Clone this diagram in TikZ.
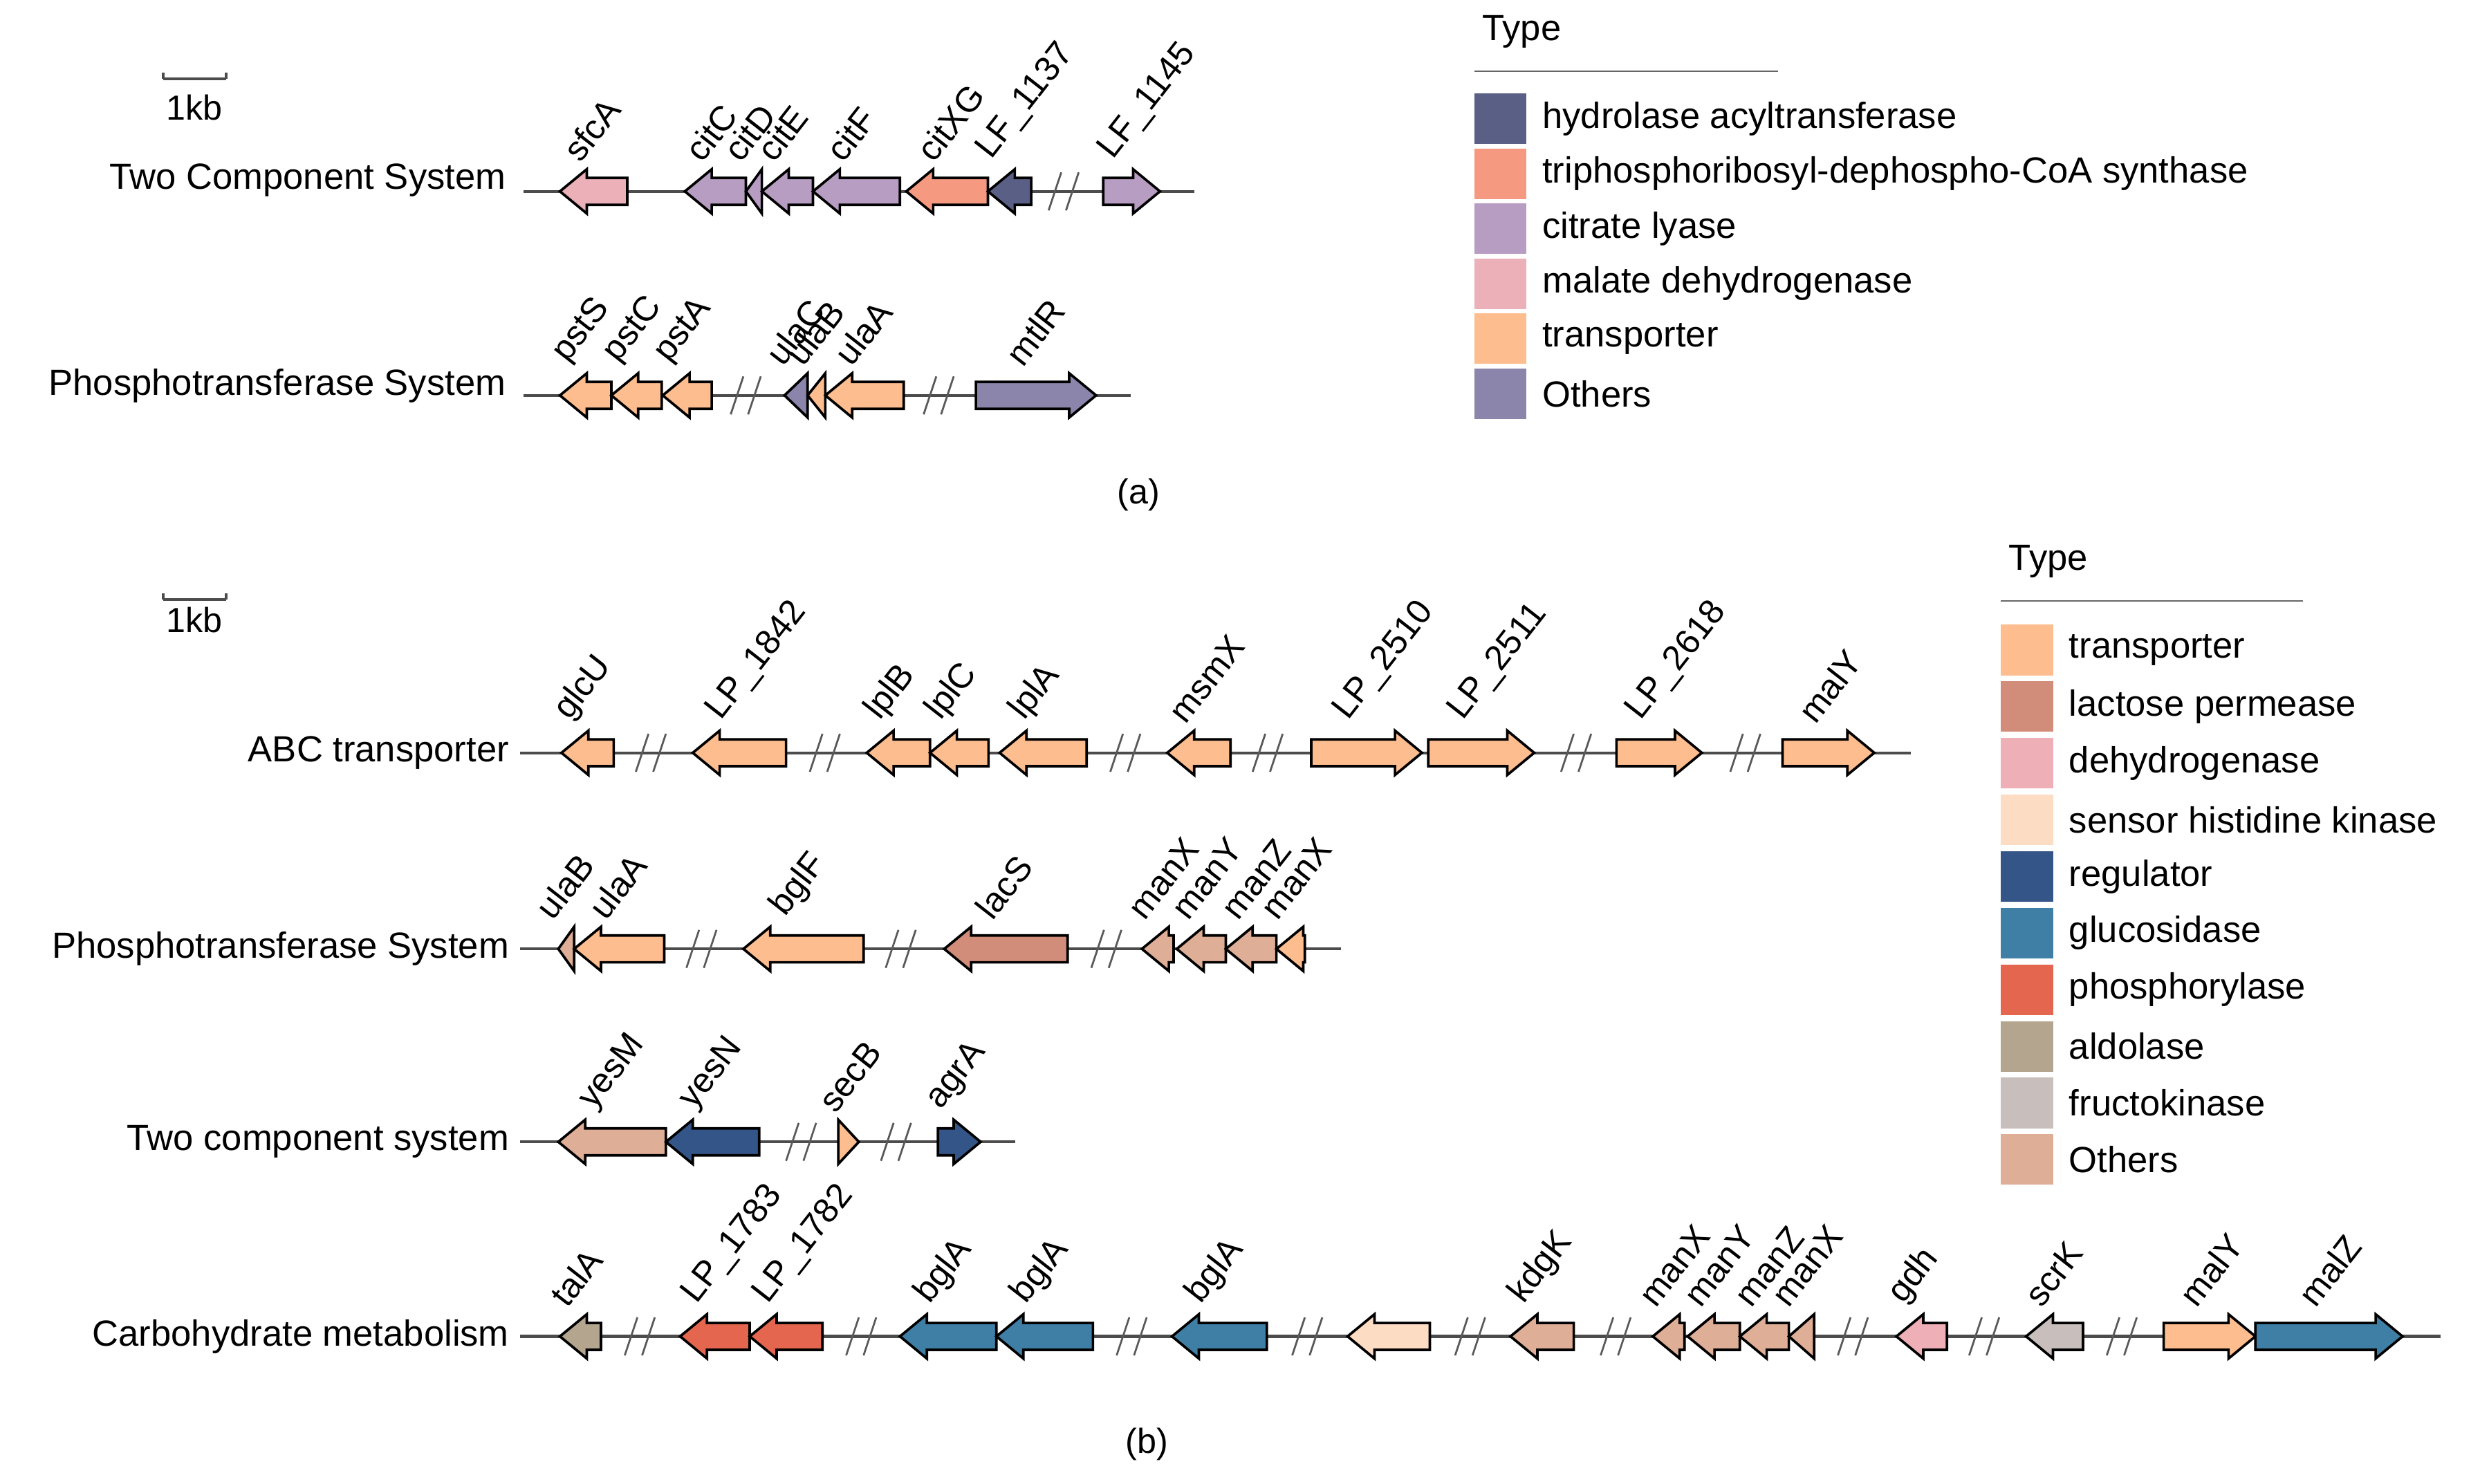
\documentclass[tikz,border=0pt]{standalone}
\usepackage{fontspec}
\setmainfont{Liberation Sans}
\begin{document}
\begin{tikzpicture}[x=1pt,y=-1pt,
  bb/.style={draw=black,line width=1.6pt,line join=miter},
  bl/.style={draw=black!70,line width=1.8pt},
  brk/.style={draw=black!65,line width=1.2pt},
  glab/.style={anchor=south west,rotate=52,inner sep=0pt,font=\fontsize{22}{26}\selectfont},
  rlab/.style={anchor=east,inner sep=0pt,font=\fontsize{23}{27}\selectfont},
  ltxt/.style={anchor=west,inner sep=0pt,font=\fontsize{23}{27}\selectfont}]
\definecolor{hyd}{HTML}{5A5F85}\definecolor{tri}{HTML}{F59A80}
\definecolor{cit}{HTML}{B89DC3}\definecolor{mal}{HTML}{ECB0B8}
\definecolor{tra}{HTML}{FDBD8E}\definecolor{oth}{HTML}{8B84AB}
\definecolor{lac}{HTML}{D28C7A}\definecolor{deh}{HTML}{EFAFB7}
\definecolor{sen}{HTML}{FDDCC4}\definecolor{reg}{HTML}{345587}
\definecolor{glu}{HTML}{3F7FA6}\definecolor{pho}{HTML}{E4664F}
\definecolor{ald}{HTML}{B3A58E}\definecolor{fru}{HTML}{C8BFBD}
\definecolor{otb}{HTML}{DFAE97}
\useasboundingbox (0,0) rectangle (1568,938);
\fill[white] (0,0) rectangle (1568,938);
\newcommand\gn[6]{%
 \pgfmathsetmacro\L{#2-#1}\pgfmathsetmacro\h{min(17,\L)}%
 \ifx#4L
  \pgfmathsetmacro\b{#1+\h}%
  \ifdim\L pt>17pt
   \path[bb,fill=#5] (#1,#3) -- (\b,#3-14) -- (\b,#3-8.5) -- (#2,#3-8.5) -- (#2,#3+8.5) -- (\b,#3+8.5) -- (\b,#3+14) -- cycle;
  \else
   \path[bb,fill=#5] (#1,#3) -- (#2,#3-14) -- (#2,#3+14) -- cycle;
  \fi
 \else
  \pgfmathsetmacro\b{#2-\h}%
  \ifdim\L pt>17pt
   \path[bb,fill=#5] (#2,#3) -- (\b,#3-14) -- (\b,#3-8.5) -- (#1,#3-8.5) -- (#1,#3+8.5) -- (\b,#3+8.5) -- (\b,#3+14) -- cycle;
  \else
   \path[bb,fill=#5] (#2,#3) -- (#1,#3-14) -- (#1,#3+14) -- cycle;
  \fi
 \fi
 \node[glab] at ({(#1+#2)/2-8},#3-17) {#6};}
\newcommand\bk[2]{\draw[brk] (#1,#2+12) -- (#1+8,#2-12) (#1+11,#2+12) -- (#1+19,#2-12);}

% ---------- panel (a)
\draw[bl] (103,50) -- (143,50) (103,46)--(103,50) (143,46)--(143,50);
\node[inner sep=0pt,font=\fontsize{22}{26}\selectfont] at (123,68) {1kb};
\node[rlab] at (320,114) {Two Component System};
\draw[bl] (331,121) -- (755,121);
\bk{663}{121}
\gn{354}{396.6}{121}{L}{mal}{sfcA}
\gn{433}{471.6}{121}{L}{cit}{citC}
\gn{471.6}{481.7}{121}{L}{cit}{citD}
\gn{481.7}{514}{121}{L}{cit}{citE}
\gn{514}{569}{121}{L}{cit}{citF}
\gn{573}{624.6}{121}{L}{tri}{citXG}
\gn{624.6}{652}{121}{L}{hyd}{LF\_1137}
\gn{697.5}{733.4}{121}{R}{cit}{LF\_1145}

\node[rlab] at (320,244) {Phosphotransferase System};
\draw[bl] (331,250) -- (715,250);
\bk{462}{250}\bk{584}{250}
\gn{354}{386.5}{250}{L}{tra}{pstS}
\gn{386.5}{418.4}{250}{L}{tra}{pstC}
\gn{419}{450}{250}{L}{tra}{pstA}
\gn{496}{510.6}{250}{L}{oth}{ulaC}
\gn{510.6}{521.8}{250}{L}{tra}{ulaB}
\gn{521.8}{571.4}{250}{L}{tra}{ulaA}
\gn{617}{693}{250}{R}{oth}{mtlR}
\node[inner sep=0pt,font=\fontsize{22}{26}\selectfont] at (720,313) {(a)};

% legend (a)
\node[ltxt] at (937,20) {Type};
\draw[black!60,line width=1pt] (932,45) -- (1124,45);
\foreach \c/\t [count=\i from 0] in {hyd/hydrolase acyltransferase,tri/triphosphoribosyl-dephospho-CoA synthase,cit/citrate lyase,mal/malate dehydrogenase,tra/transporter,oth/Others}{
  \fill[\c] (932,{59+34.8*\i}) rectangle (965,{91+34.8*\i});
  \node[ltxt] at (975,{75+34.8*\i}) {\t};}

% ---------- panel (b)
\draw[bl] (103,379) -- (143,379) (103,375)--(103,379) (143,375)--(143,379);
\node[inner sep=0pt,font=\fontsize{22}{26}\selectfont] at (123,392) {1kb};

\node[rlab] at (322,476) {ABC transporter};
\draw[bl] (329,476) -- (1208,476);
\bk{402}{476}\bk{512}{476}\bk{702}{476}\bk{792}{476}\bk{987}{476}\bk{1094}{476}
\gn{355}{388}{476}{L}{tra}{glcU}
\gn{438}{497}{476}{L}{tra}{LP\_1842}
\gn{548}{588}{476}{L}{tra}{lplB}
\gn{588}{625}{476}{L}{tra}{lplC}
\gn{632}{687}{476}{L}{tra}{lplA}
\gn{738}{778}{476}{L}{tra}{msmX}
\gn{829}{899}{476}{R}{tra}{LP\_2510}
\gn{903}{970}{476}{R}{tra}{LP\_2511}
\gn{1022}{1076}{476}{R}{tra}{LP\_2618}
\gn{1127}{1185}{476}{R}{tra}{malY}

\node[rlab] at (322,600) {Phosphotransferase System};
\draw[bl] (329,600) -- (848,600);
\bk{434}{600}\bk{560}{600}\bk{690}{600}
\gn{353}{363}{600}{L}{otb}{ulaB}
\gn{363}{420}{600}{L}{tra}{ulaA}
\gn{470}{546}{600}{L}{tra}{bglF}
\gn{597}{675}{600}{L}{lac}{lacS}
\gn{722}{742}{600}{L}{otb}{manX}
\gn{744}{775}{600}{L}{otb}{manY}
\gn{775}{807}{600}{L}{otb}{manZ}
\gn{807}{825}{600}{L}{tra}{manX}

\node[rlab] at (322,722) {Two component system};
\draw[bl] (329,722) -- (642,722);
\bk{497}{722}\bk{557}{722}
\gn{353}{421}{722}{L}{otb}{yesM}
\gn{421}{480}{722}{L}{reg}{yesN}
\gn{530}{543}{722}{R}{tra}{secB}
\gn{593}{620}{722}{R}{reg}{agrA}

\node[rlab] at (322,845) {Carbohydrate metabolism};
\draw[bl] (329,845) -- (1543,845);
\bk{395}{845}\bk{535}{845}\bk{706}{845}\bk{817}{845}\bk{920}{845}\bk{1012}{845}\bk{1162}{845}\bk{1245}{845}\bk{1332}{845}
\gn{354}{380}{845}{L}{ald}{talA}
\gn{430}{474}{845}{L}{pho}{LP\_1783}
\gn{474}{520}{845}{L}{pho}{LP\_1782}
\gn{569}{630}{845}{L}{glu}{bglA}
\gn{630}{691}{845}{L}{glu}{bglA}
\gn{741}{801}{845}{L}{glu}{bglA}
\gn{852}{904}{845}{L}{sen}{}
\gn{955}{995}{845}{L}{otb}{kdgK}
\gn{1045}{1065}{845}{L}{otb}{manX}
\gn{1067}{1100}{845}{L}{otb}{manY}
\gn{1100}{1131}{845}{L}{otb}{manZ}
\gn{1131}{1147}{845}{L}{otb}{manX}
\gn{1199}{1231}{845}{L}{deh}{gdh}
\gn{1281}{1317}{845}{L}{fru}{scrK}
\gn{1368}{1426}{845}{R}{tra}{malY}
\gn{1426}{1519}{845}{R}{glu}{malZ}
\node[inner sep=0pt,font=\fontsize{22}{26}\selectfont] at (725,913) {(b)};

% legend (b)
\node[ltxt] at (1270,355) {Type};
\draw[black!60,line width=1pt] (1265,380) -- (1456,380);
\foreach \c/\t [count=\i from 0] in {tra/transporter,lac/lactose permease,deh/dehydrogenase,sen/sensor histidine kinase,reg/regulator,glu/glucosidase,pho/phosphorylase,ald/aldolase,fru/fructokinase,otb/Others}{
  \fill[\c] (1265,{395+35.8*\i}) rectangle (1298,{427+35.8*\i});
  \node[ltxt] at (1308,{411+35.8*\i}) {\t};}
\end{tikzpicture}
\end{document}
